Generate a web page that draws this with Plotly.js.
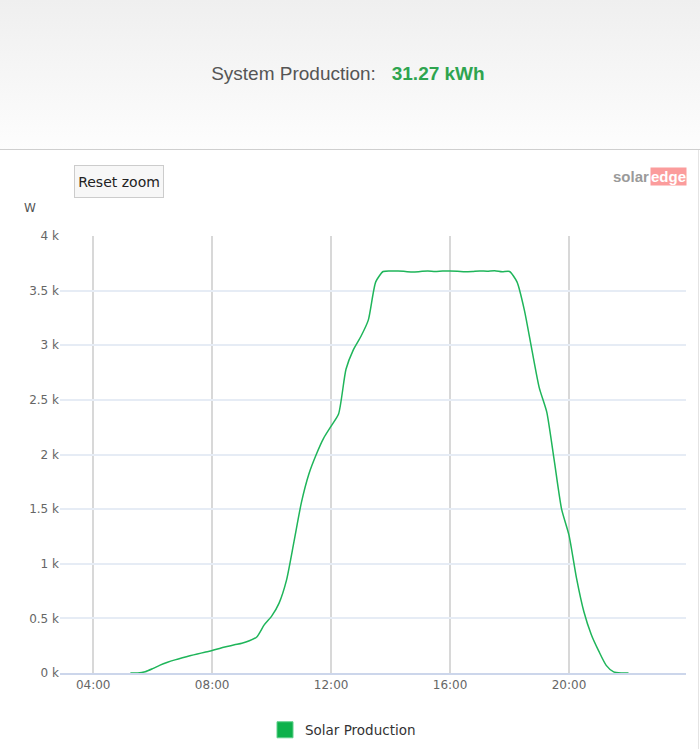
<!DOCTYPE html>
<html>
<head>
<meta charset="utf-8">
<script src="https://cdn.plot.ly/plotly-3.0.1.min.js"></script>
<style>
  html, body { margin: 0; padding: 0; background: #fff; }
  #wrap { position: relative; width: 700px; height: 749px; }
  #hdr { position: absolute; left: 0; top: 0; width: 700px; height: 149px;
         background: linear-gradient(#efefef, #fdfdfd); border-bottom: 1px solid #cfcfcf; }
  #edge { position: absolute; right: 1px; top: 150px; width: 1px; height: 599px; background: #e4e4e4; }
  #chart { position: absolute; left: 0; top: 0; width: 700px; height: 749px; }
</style>
</head>
<body>
<div id="wrap">
  <div id="hdr"></div>
  <div id="edge"></div>
  <div id="chart"></div>
</div>
<script>
// ---- data ----
const day = '2024-06-01';
const times = [
  '05:15','05:30','05:45','06:00','06:15','06:30','06:45','07:00','07:15','07:30','07:45',
  '08:00','08:15','08:30','08:45','09:00','09:15','09:30','09:45',
  '10:00','10:15','10:30','10:45','11:00','11:15','11:30','11:45',
  '12:00','12:15','12:30','12:45','13:00','13:15','13:30','13:45',
  '14:00','14:15','14:30','14:45','15:00','15:15','15:30','15:45',
  '16:00','16:15','16:30','16:45','17:00','17:15','17:30','17:45',
  '18:00','18:15','18:30','18:45','19:00','19:15','19:30','19:45',
  '20:00','20:15','20:30','20:45','21:00','21:15','21:30','21:45','22:00'
];
const watts = [
  0, 0, 12, 40, 72, 98, 120, 140, 158, 174, 190,
  205, 225, 242, 258, 272, 295, 330, 440,
  520, 640, 850, 1200, 1560, 1820, 2000, 2150,
  2260, 2370, 2780, 2960, 3080, 3230, 3580, 3675,
  3680, 3680, 3675, 3670, 3675, 3680, 3675, 3680,
  3680, 3678, 3672, 3675, 3680, 3678, 3682, 3672,
  3675, 3580, 3320, 2960, 2610, 2390, 1950, 1500,
  1260, 870, 560, 350, 200, 70, 10, 0, 0
];
const yTickVals = [0, 500, 1000, 1500, 2000, 2500, 3000, 3500, 4000];
const yTickText = ['0 k', '0.5 k', '1 k', '1.5 k', '2 k', '2.5 k', '3 k', '3.5 k', '4 k'];
const seriesName = 'Solar Production';
const totalText = '31.27 kWh';

const xs = times.map(t => day + ' ' + t);

const traces = [
  {
    x: xs, y: watts, type: 'scatter', mode: 'lines',
    line: { color: '#1fb55a', width: 1.5, shape: 'spline', smoothing: 0.6 },
    showlegend: false, hoverinfo: 'x+y'
  },
  {
    x: [null], y: [null], type: 'scatter', mode: 'markers', name: seriesName,
    marker: { symbol: 'square', size: 16, color: '#0db14b', line: { color: '#5fd08a', width: 1 } },
    showlegend: true
  }
];

const uiFont = 'DejaVu Sans, Verdana, sans-serif';

const layout = {
  width: 700, height: 749,
  paper_bgcolor: 'rgba(0,0,0,0)', plot_bgcolor: 'rgba(0,0,0,0)',
  margin: { l: 60, r: 14, t: 236, b: 76 },
  title: {
    text: 'System Production:&nbsp;&nbsp;&nbsp;<b><span style="color:#2ea44f">' + totalText + '</span></b>',
    font: { family: 'Liberation Sans, Arial, sans-serif', size: 19, color: '#555555' },
    x: 0.497, xanchor: 'center', xref: 'container',
    y: 1 - 73 / 749, yanchor: 'middle', yref: 'container'
  },
  xaxis: {
    type: 'date',
    range: [day + ' 02:53', day + ' 23:56'],
    tick0: day + ' 04:00', dtick: 4 * 3600000, tickformat: '%H:%M',
    showgrid: true, gridcolor: '#d8d8d8', gridwidth: 2,
    showline: true, linecolor: '#ccd6eb', linewidth: 1.5,
    zeroline: false, ticks: '',
    tickfont: { family: uiFont, size: 12, color: '#666666' },
    fixedrange: true
  },
  yaxis: {
    range: [0, 4000],
    tickvals: yTickVals, ticktext: yTickText,
    showgrid: true, gridcolor: '#e6ecf5', gridwidth: 1.5,
    zeroline: false, showline: false, ticks: '',
    tickfont: { family: uiFont, size: 12, color: '#666666' },
    fixedrange: true
  },
  legend: {
    orientation: 'h', xref: 'container', yref: 'container',
    x: 0.49, xanchor: 'center', y: 19 / 749, yanchor: 'middle',
    font: { family: uiFont, size: 13.5, color: '#333333' },
    bgcolor: 'rgba(0,0,0,0)'
  },
  annotations: [
    { xref: 'paper', yref: 'paper', x: (30 - 60) / 626, y: (673 - 208) / 437,
      text: 'W', showarrow: false, xanchor: 'center', yanchor: 'middle',
      font: { family: uiFont, size: 12, color: '#555555' } },
    { xref: 'paper', yref: 'paper', x: (119 - 60) / 626, y: (673 - 182) / 437,
      text: 'Reset zoom', showarrow: false, xanchor: 'center', yanchor: 'middle',
      width: 86, height: 29, borderpad: 1, borderwidth: 1,
      bgcolor: '#f7f7f7', bordercolor: '#cccccc',
      font: { family: uiFont, size: 14, color: '#222222' } },
    { xref: 'paper', yref: 'paper', x: (651 - 60) / 626, y: (673 - 176) / 437,
      text: '<b>solar</b>', showarrow: false, xanchor: 'right', yanchor: 'middle',
      font: { family: 'Liberation Sans, Arial, sans-serif', size: 15, color: '#9a9a9a' } },
    { xref: 'paper', yref: 'paper', x: (650 - 60) / 626, y: (673 - 176) / 437,
      text: '<b>edge</b>', showarrow: false, xanchor: 'left', yanchor: 'middle',
      bgcolor: '#fb9c9c', borderpad: 0,
      font: { family: 'Liberation Sans, Arial, sans-serif', size: 15, color: '#ffffff' } }
  ]
};

Plotly.newPlot('chart', traces, layout, { displayModeBar: false, staticPlot: false });
</script>
</body>
</html>
